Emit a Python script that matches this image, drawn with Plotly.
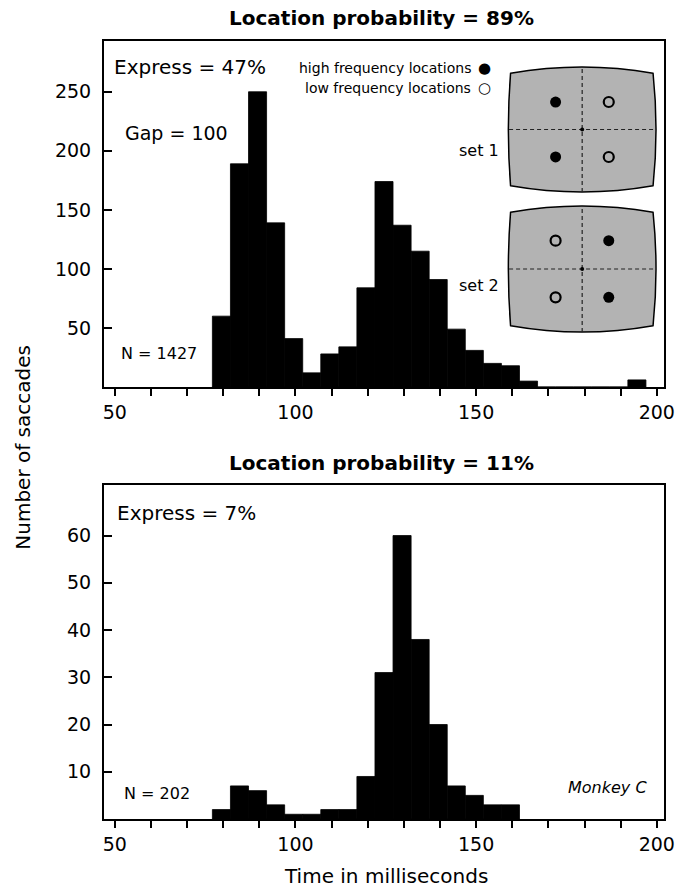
import plotly.graph_objects as go

# ---------------- data ----------------
# histogram bins: left edges (ms), bin width 5 ms
top_bin_edges = [77, 82, 87, 92, 97, 102, 107, 112, 117, 122, 127, 132, 137, 142,
                 147, 152, 157, 162, 167, 172, 177, 182, 187, 192]
top_counts = [60, 189, 250, 139, 41, 12, 28, 34, 84, 174, 137, 115, 91, 49,
              31, 20, 18, 5, 0, 0, 0, 0, 0, 6]

bottom_bin_edges = [77, 82, 87, 92, 97, 102, 107, 112, 117, 122, 127, 132, 137, 142,
                    147, 152, 157]
bottom_counts = [2, 7, 6, 3, 1, 1, 2, 2, 9, 31, 60, 38, 20, 7, 5, 3, 3]

bin_width = 5

x_tick_vals = [50, 100, 150, 200]
top_y_ticks = [50, 100, 150, 200, 250]
bottom_y_ticks = [10, 20, 30, 40, 50, 60]

# inset diagrams (screen coordinates, -1..1)
set1_high_x = [-0.36, -0.36]
set1_high_y = [0.44, -0.44]
set1_low_x = [0.36, 0.36]
set1_low_y = [0.44, -0.44]
set2_high_x = [0.36, 0.36]
set2_high_y = [0.45, -0.45]
set2_low_x = [-0.36, -0.36]
set2_low_y = [0.45, -0.45]
fixation_x = [0]
fixation_y = [0]

# ---------------- layout helpers ----------------
W, H = 687, 887
ML, MR, MT, MB = 104, 18, 41, 68
PW = W - ML - MR
PH = H - MT - MB
FONT = "DejaVu Sans"


def px(x):
    return (x - ML) / PW


def py(y):
    return (H - MB - y) / PH


fig = go.Figure()

bar_marker = dict(color="black", line=dict(width=0.8, color="black"))
fig.add_trace(go.Bar(x=top_bin_edges, y=top_counts, width=bin_width, offset=0,
                     marker=bar_marker, xaxis="x", yaxis="y",
                     showlegend=False, hoverinfo="skip"))
fig.add_trace(go.Bar(x=bottom_bin_edges, y=bottom_counts, width=bin_width, offset=0,
                     marker=bar_marker, xaxis="x2", yaxis="y2",
                     showlegend=False, hoverinfo="skip"))

filled = dict(symbol="circle", size=11, color="black")
hollow = dict(symbol="circle-open", size=10, color="black", line=dict(width=2.2))
for xa, ya, hx, hy, lx, ly in [("x3", "y3", set1_high_x, set1_high_y, set1_low_x, set1_low_y),
                               ("x4", "y4", set2_high_x, set2_high_y, set2_low_x, set2_low_y)]:
    fig.add_trace(go.Scatter(x=hx, y=hy, mode="markers", marker=filled,
                             xaxis=xa, yaxis=ya, showlegend=False, hoverinfo="skip"))
    fig.add_trace(go.Scatter(x=lx, y=ly, mode="markers", marker=hollow,
                             xaxis=xa, yaxis=ya, showlegend=False, hoverinfo="skip"))
    fig.add_trace(go.Scatter(x=fixation_x, y=fixation_y, mode="markers",
                             marker=dict(size=4, color="black"),
                             xaxis=xa, yaxis=ya, showlegend=False, hoverinfo="skip"))

tickfont = dict(family=FONT, size=19, color="black")
frame = dict(showline=True, mirror=True, linecolor="black", linewidth=2,
             showgrid=False, zeroline=False, tickfont=tickfont,
             tickcolor="black", tickwidth=1.5)

xaxis_common = dict(frame, range=[47, 202], tickmode="array", tickvals=x_tick_vals,
                    ticks="outside", ticklen=7, ticklabelstandoff=0,
                    minor=dict(dtick=10, tick0=0, ticks="outside", ticklen=7,
                               tickcolor="black", tickwidth=1.5, showgrid=False))

top_dom = [py(387), py(41)]
bot_dom = [py(819), py(485)]

inset_x_dom = [px(504.5), px(668.4)]
inset1_y_dom = [py(198.2), py(60.8)]
inset2_y_dom = [py(338.3), py(199.7)]
hidden = dict(visible=False, range=[-1.1, 1.1], fixedrange=True)

fig.update_layout(
    width=W, height=H, autosize=False,
    margin=dict(l=ML, r=MR, t=MT, b=MB, pad=0),
    paper_bgcolor="white", plot_bgcolor="rgba(0,0,0,0)",
    barmode="overlay",
    font=dict(family=FONT, color="black"),
    xaxis=dict(xaxis_common, domain=[0, 1], anchor="y"),
    yaxis=dict(frame, domain=top_dom, anchor="x", range=[0, 293],
               tickmode="array", tickvals=top_y_ticks, ticks="inside", ticklen=8,
               ticklabelstandoff=7),
    xaxis2=dict(xaxis_common, domain=[0, 1], anchor="y2"),
    yaxis2=dict(frame, domain=bot_dom, anchor="x2", range=[0, 70.7],
                tickmode="array", tickvals=bottom_y_ticks, ticks="inside", ticklen=8,
                ticklabelstandoff=7),
    xaxis3=dict(hidden, domain=inset_x_dom, anchor="y3"),
    yaxis3=dict(hidden, domain=inset1_y_dom, anchor="x3"),
    xaxis4=dict(hidden, domain=inset_x_dom, anchor="y4"),
    yaxis4=dict(hidden, domain=inset2_y_dom, anchor="x4"),
)

# inset screens
box_path = ("M -0.97,0.9 Q 0,1.1 0.96,0.9 Q 1.04,0 0.96,-0.9 "
            "Q 0,-1.1 -0.97,-0.9 Q -1.03,0 -0.97,0.9 Z")
shapes = []
for xa, ya in [("x3", "y3"), ("x4", "y4")]:
    shapes.append(dict(type="path", path=box_path, xref=xa, yref=ya, layer="below",
                       fillcolor="#b3b3b3", line=dict(color="black", width=1.5)))
    shapes.append(dict(type="line", x0=-0.99, x1=0.99, y0=0, y1=0, xref=xa, yref=ya,
                       layer="below", line=dict(color="#222222", width=1.2, dash="4px,3px")))
    shapes.append(dict(type="line", x0=0, x1=0, y0=-1.0, y1=1.0, xref=xa, yref=ya,
                       layer="below", line=dict(color="#222222", width=1.2, dash="4px,3px")))
fig.update_layout(shapes=shapes)


def ann(text, x, y, size, xanchor="left", **kw):
    d = dict(text=text, x=px(x), y=py(y), xref="paper", yref="paper",
             xanchor=xanchor, yanchor="middle", showarrow=False,
             font=dict(family=FONT, size=size, color="black"))
    d.update(kw)
    return d


annotations = [
    ann("<b>Location probability = 89%</b>", 384, 18, 20, "center"),
    ann("<b>Location probability = 11%</b>", 384, 463, 20, "center"),
    ann("Express = 47%", 112, 67, 20),
    ann("Gap = 100", 123, 133, 19),
    ann("N = 1427", 119, 353, 16),
    ann("high frequency locations", 476, 68, 14, "right"),
    ann("low frequency locations", 476, 88, 14, "right"),
    ann("●", 488, 68, 15, "center"),
    ann("○", 488, 88, 15, "center"),
    ann("set 1", 505, 150, 16, "right"),
    ann("set 2", 505, 285, 16, "right"),
    ann("Express = 7%", 115, 513, 20),
    ann("N = 202", 122, 793, 16),
    ann("<i>Monkey C</i>", 654, 787, 16, "right"),
    ann("Time in milliseconds", 389, 876, 20, "center"),
    ann("Number of saccades", 22, 447, 20, "center", textangle=-90),
]
fig.update_layout(annotations=annotations)

fig.write_html("out.html")
